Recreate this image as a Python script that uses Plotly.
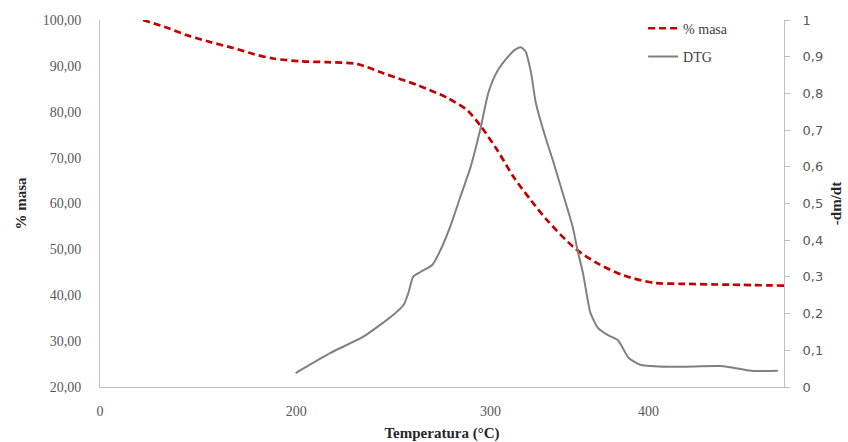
import plotly.graph_objects as go

# Category-axis positions (Excel line chart style, 0..100 across the axis)
mass_x = [6.3, 9.8, 12.7, 16.1, 19.5, 22.4, 25.3, 29.3, 33.2, 37.6, 41.4, 46.4, 50.8,
          53.7, 55.6, 58.1, 60.5, 63.0, 65.4, 69.3, 72.8, 76.6, 81.0, 84.9, 92.2, 100.0]
mass_y = [100.0, 98.3, 96.7, 95.2, 93.9, 92.6, 91.6, 91.0, 90.8, 90.4, 88.4, 85.8, 83.0,
          80.3, 77.0, 71.6, 65.7, 60.7, 56.3, 50.4, 46.9, 44.3, 42.7, 42.5, 42.3, 42.1]

dtg_x = [28.6, 33.7, 38.5, 42.9, 44.4, 45.1, 45.8, 46.9, 48.6, 49.8, 51.2, 52.7, 54.2,
         55.6, 56.8, 58.1, 59.6, 60.6, 61.5, 62.2, 63.0, 63.7, 64.9, 66.3, 67.8, 69.1,
         69.8, 70.6, 71.3, 71.7, 72.8, 74.2, 75.7, 76.4, 77.3, 79.1, 83.5, 90.8, 92.7,
         95.2, 99.1]
dtg_y = [0.038, 0.093, 0.137, 0.197, 0.224, 0.257, 0.301, 0.314, 0.333, 0.374, 0.437,
         0.519, 0.601, 0.702, 0.803, 0.861, 0.899, 0.918, 0.926, 0.915, 0.858, 0.776,
         0.694, 0.612, 0.519, 0.437, 0.374, 0.311, 0.238, 0.202, 0.161, 0.142, 0.128,
         0.107, 0.079, 0.060, 0.055, 0.057, 0.052, 0.044, 0.044]

x_tick_pos = [0, 28.7, 57.1, 80.2]
x_tick_text = ["0", "200", "300", "400"]

left_ticks = [20, 30, 40, 50, 60, 70, 80, 90, 100]
left_tick_text = ["20,00", "30,00", "40,00", "50,00", "60,00", "70,00", "80,00", "90,00", "100,00"]
right_ticks = [0, 0.1, 0.2, 0.3, 0.4, 0.5, 0.6, 0.7, 0.8, 0.9, 1.0]
right_tick_text = ["0", "0,1", "0,2", "0,3", "0,4", "0,5", "0,6", "0,7", "0,8", "0,9", "1"]

serif = "Liberation Serif"
axis_col = "#BFBFBF"

fig = go.Figure()
fig.add_trace(go.Scatter(
    x=mass_x, y=mass_y, name="% masa", mode="lines", legendgroup="a",
    line=dict(color="#C00000", width=2.7, dash="7px,4px", shape="spline", smoothing=0.8),
))
fig.add_trace(go.Scatter(
    x=dtg_x, y=dtg_y, name="DTG", mode="lines", yaxis="y2", legendgroup="b",
    line=dict(color="#808080", width=2, shape="spline", smoothing=0.6),
))

fig.update_layout(
    width=848, height=442,
    margin=dict(l=100, r=64, t=20, b=55),
    plot_bgcolor="white", paper_bgcolor="white",
    showlegend=True,
    legend=dict(x=0.794, y=1.02, xanchor="left", yanchor="top",
                bgcolor="rgba(0,0,0,0)", tracegroupgap=7,
                font=dict(family=serif, size=14, color="#404040")),
    xaxis=dict(range=[0, 100], showgrid=False, zeroline=False, automargin=False,
               showline=True, linecolor=axis_col, linewidth=1,
               tickmode="array", tickvals=x_tick_pos, ticktext=x_tick_text,
               ticks="", ticklabelstandoff=11,
               tickfont=dict(family=serif, size=14, color="#595959"),
               title=dict(text="<b>Temperatura (°C)</b>", standoff=12,
                          font=dict(family=serif, size=15, color="#262626"))),
    yaxis=dict(range=[20, 100], showgrid=False, zeroline=False, automargin=False,
               showline=True, linecolor=axis_col, linewidth=1,
               tickmode="array", tickvals=left_ticks, ticktext=left_tick_text,
               ticks="", ticklabelstandoff=15,
               tickfont=dict(family=serif, size=14, color="#595959"),
               title=dict(text="<b>% masa</b>", standoff=12,
                          font=dict(family=serif, size=15, color="#262626"))),
    yaxis2=dict(range=[0, 1], overlaying="y", side="right", showgrid=False, zeroline=False,
                automargin=False,
                showline=True, linecolor=axis_col, linewidth=1,
                tickmode="array", tickvals=right_ticks, ticktext=right_tick_text,
                ticks="outside", ticklen=5, tickcolor=axis_col, ticklabelstandoff=10,
                tickfont=dict(family="DejaVu Sans", size=13, color="#595959"),
                title=dict(text="<b>-dm/dt</b>", standoff=8,
                           font=dict(family=serif, size=15, color="#262626"))),
)

fig.write_html("out.html")
